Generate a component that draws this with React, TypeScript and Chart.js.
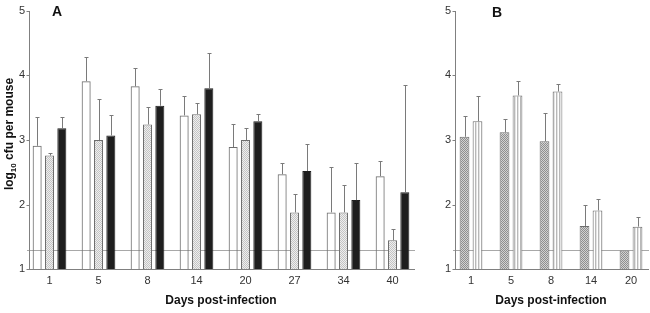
import React, { useEffect, useRef } from "react";
import { Chart, registerables } from "chart.js";

Chart.register(...registerables);

// ---------- Data ----------
const daysA = ["1", "5", "8", "14", "20", "27", "34", "40"];
const aWhite = [2.91, 3.91, 3.83, 3.38, 2.89, 2.47, 1.88, 2.44];
const aWhiteSD = [0.44, 0.38, 0.29, 0.3, 0.35, 0.17, 0.7, 0.24];
const aHatch = [2.76, 3.0, 3.24, 3.4, 3.0, 1.88, 1.88, 1.45];
const aHatchSD = [0.04, 0.64, 0.27, 0.17, 0.18, 0.28, 0.42, 0.17];
const aBlack = [3.18, 3.07, 3.53, 3.8, 3.29, 2.52, 2.07, 2.19];
const aBlackSD = [0.17, 0.32, 0.26, 0.54, 0.11, 0.42, 0.57, 1.66];

const daysB = ["1", "5", "8", "14", "20"];
const bCross = [3.05, 3.12, 2.98, 1.67, 1.29];
const bCrossSD = [0.32, 0.2, 0.44, 0.33, 0];
const bVert = [3.29, 3.69, 3.75, 1.91, 1.66];
const bVertSD = [0.39, 0.22, 0.11, 0.18, 0.15];

const yTicks = [1, 2, 3, 4, 5];
const detectionLimit = 1.3;

const FONT = "Arial, 'Liberation Sans', sans-serif";

function makePattern(kind: string): CanvasPattern | string {
  const c = document.createElement("canvas");
  const ctx = c.getContext("2d");
  if (!ctx) return "#ccc";
  if (kind === "hatchA") {
    c.width = 2; c.height = 2;
    ctx.fillStyle = "#eeeeee"; ctx.fillRect(0, 0, 2, 2);
    ctx.fillStyle = "#c4c4c4"; ctx.fillRect(0, 0, 1, 1); ctx.fillRect(1, 1, 1, 1);
  } else if (kind === "crossB") {
    c.width = 2; c.height = 2;
    ctx.fillStyle = "#d2d2d2"; ctx.fillRect(0, 0, 2, 2);
    ctx.fillStyle = "#8f8f8f"; ctx.fillRect(0, 0, 1, 1); ctx.fillRect(1, 1, 1, 1);
  } else {
    c.width = 3; c.height = 1;
    ctx.fillStyle = "#ffffff"; ctx.fillRect(0, 0, 3, 1);
    ctx.fillStyle = "#b8b8b8"; ctx.fillRect(1, 0, 1, 1);
    ctx.fillStyle = "#e4e4e4"; ctx.fillRect(2, 0, 1, 1);
  }
  return ctx.createPattern(c, "repeat") || "#ccc";
}

type PanelOpts = {
  letter: string;
  letterDx: number;
  letterY: number;
  sds: number[][];
  yTitle: boolean;
};

function panelPlugin(p: PanelOpts) {
  return {
    id: "panel" + p.letter,
    beforeDatasetsDraw(chart: any) {
      const { ctx, chartArea, scales } = chart;
      const y = Math.round(scales.y.getPixelForValue(detectionLimit)) + 0.5;
      ctx.save();
      ctx.strokeStyle = "#a8a8a8";
      ctx.lineWidth = 1;
      ctx.beginPath();
      ctx.moveTo(chartArea.left + 2, y);
      ctx.lineTo(chartArea.right - 2, y);
      ctx.stroke();
      ctx.restore();
    },
    afterDatasetsDraw(chart: any) {
      const { ctx, chartArea, scales } = chart;
      ctx.save();
      // error bars
      ctx.strokeStyle = "#7a7a7a";
      ctx.lineWidth = 1;
      chart.data.datasets.forEach((ds: any, di: number) => {
        const meta = chart.getDatasetMeta(di);
        meta.data.forEach((el: any, i: number) => {
          const sd = p.sds[di][i];
          if (!sd) return;
          const x = Math.round(el.x) + 0.5;
          const yTop = Math.round(scales.y.getPixelForValue(ds.data[i] + sd)) + 0.5;
          const yBar = el.y;
          ctx.beginPath();
          ctx.moveTo(x, yBar);
          ctx.lineTo(x, yTop);
          ctx.moveTo(x - 2, yTop);
          ctx.lineTo(x + 2, yTop);
          ctx.stroke();
        });
      });
      // axes
      const axX = Math.round(chartArea.left + 4) + 0.5;
      const yBottom = Math.round(scales.y.getPixelForValue(1)) + 0.5;
      const yTopAx = Math.round(scales.y.getPixelForValue(5));
      ctx.strokeStyle = "#808080";
      ctx.beginPath();
      ctx.moveTo(axX, yTopAx);
      ctx.lineTo(axX, yBottom);
      ctx.moveTo(chartArea.left + 2, yBottom);
      ctx.lineTo(chartArea.right - 2, yBottom);
      yTicks.forEach((t) => {
        const ty = Math.round(scales.y.getPixelForValue(t)) + 0.5;
        ctx.moveTo(axX - 3, ty);
        ctx.lineTo(axX, ty);
      });
      ctx.stroke();

      // x title
      ctx.fillStyle = "#111";
      ctx.font = `bold 12px ${FONT}`;
      ctx.textAlign = "center";
      ctx.textBaseline = "alphabetic";
      ctx.fillText("Days post-infection", (chartArea.left + 2 + Math.min(chartArea.right - 2, 650)) / 2, 304);

      // panel letter
      ctx.font = `bold 14px ${FONT}`;
      ctx.fillText(p.letter, chartArea.left + p.letterDx, p.letterY);

      // y title with subscript
      if (p.yTitle) {
        ctx.translate(13, 134);
        ctx.rotate(-Math.PI / 2);
        const big = `bold 12px ${FONT}`;
        const small = `bold 8px ${FONT}`;
        const parts = [
          { t: "log", f: big, dy: 0 },
          { t: "10", f: small, dy: 3 },
          { t: " cfu per mouse", f: big, dy: 0 },
        ];
        let total = 0;
        parts.forEach((pt) => { ctx.font = pt.f; total += ctx.measureText(pt.t).width; });
        let x = -total / 2;
        ctx.textAlign = "left";
        parts.forEach((pt) => {
          ctx.font = pt.f;
          ctx.fillText(pt.t, x, pt.dy);
          x += ctx.measureText(pt.t).width;
        });
      }
      ctx.restore();
    },
  };
}

function baseScales(padLeftAxisWidth: number) {
  return {
    x: {
      grid: { display: false, drawTicks: false },
      border: { display: false },
      ticks: { font: { family: FONT, size: 11 }, color: "#333", padding: 5 },
      afterFit: (s: any) => { s.height = 43.7; },
    },
    y: {
      min: 1,
      max: 5,
      afterBuildTicks: (s: any) => { s.ticks = yTicks.map((v) => ({ value: v })); },
      ticks: { font: { family: FONT, size: 11 }, color: "#333", padding: 0 },
      grid: { display: false, drawTicks: false },
      border: { display: false },
      afterFit: (s: any) => { s.width = padLeftAxisWidth; },
    },
  };
}

export default function App() {
  const refA = useRef<HTMLCanvasElement>(null);
  const refB = useRef<HTMLCanvasElement>(null);

  useEffect(() => {
    if (!refA.current || !refB.current) return;
    const hatchA = makePattern("hatchA");
    const crossB = makePattern("crossB");
    const vertB = makePattern("vertB");

    const chartA = new Chart(refA.current, {
      type: "bar",
      data: {
        labels: daysA,
        datasets: [
          { data: aWhite, backgroundColor: "rgba(255,255,255,0)", borderColor: "#6e6e6e", borderWidth: 1 },
          { data: aHatch, backgroundColor: hatchA as any, borderColor: "#6e6e6e", borderWidth: 1 },
          { data: aBlack, backgroundColor: "#1e1e1e", borderColor: "#1e1e1e", borderWidth: 1 },
        ],
      },
      options: {
        animation: false,
        responsive: false,
        maintainAspectRatio: false,
        layout: { padding: { left: 0, right: 650 - 417, top: 10.7, bottom: 0 } },
        plugins: { legend: { display: false }, tooltip: { enabled: false } },
        datasets: { bar: { categoryPercentage: 0.755, barPercentage: 0.73 } },
        scales: baseScales(25) as any,
      },
      plugins: [panelPlugin({ letter: "A", letterDx: 32, letterY: 16, sds: [aWhiteSD, aHatchSD, aBlackSD], yTitle: true })],
    });

    const chartB = new Chart(refB.current, {
      type: "bar",
      data: {
        labels: daysB,
        datasets: [
          { data: bCross, backgroundColor: crossB as any, borderColor: "#6e6e6e", borderWidth: 1 },
          { data: bVert, backgroundColor: vertB as any, borderColor: "#6e6e6e", borderWidth: 1 },
        ],
      },
      options: {
        animation: false,
        responsive: false,
        maintainAspectRatio: false,
        layout: { padding: { left: 451 - 25, right: 0, top: 10.7, bottom: 0 } },
        plugins: { legend: { display: false }, tooltip: { enabled: false } },
        datasets: { bar: { categoryPercentage: 0.65, barPercentage: 0.75 } },
        scales: baseScales(25) as any,
      },
      plugins: [panelPlugin({ letter: "B", letterDx: 46, letterY: 17, sds: [bCrossSD, bVertSD], yTitle: false })],
    });

    return () => {
      chartA.destroy();
      chartB.destroy();
    };
  }, []);

  return (
    <div style={{ position: "fixed", left: 0, top: 0, width: 650, height: 313, overflow: "hidden", background: "#fff" }}>
      <canvas ref={refA} width={650} height={313} style={{ position: "absolute", left: 0, top: 0 }} />
      <canvas ref={refB} width={651} height={313} style={{ position: "absolute", left: 0, top: 0 }} />
    </div>
  );
}
